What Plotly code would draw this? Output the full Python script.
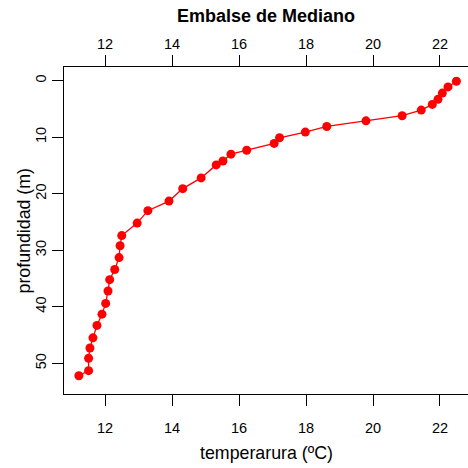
import plotly.graph_objects as go

temperatura = [22.49, 22.24, 22.07, 21.94, 21.77, 21.44, 20.87, 19.79, 18.62, 17.98,
               17.21, 17.05, 16.23, 15.76, 15.52, 15.32, 14.87, 14.32, 13.91, 13.28,
               12.96, 12.50, 12.45, 12.42, 12.29, 12.14, 12.09, 12.02, 11.91, 11.76,
               11.64, 11.55, 11.51, 11.51, 11.22]
profundidad = [0.1, 1.1, 2.2, 3.3, 4.2, 5.2, 6.2, 7.1, 8.1, 9.1,
               10.1, 11.1, 12.3, 13.0, 14.2, 14.9, 17.2, 19.1, 21.3, 23.0,
               25.2, 27.4, 29.2, 31.3, 33.4, 35.2, 37.2, 39.4, 41.3, 43.3,
               45.5, 47.3, 49.1, 51.3, 52.2]
x_ticks = [12, 14, 16, 18, 20, 22]
y_ticks = [0, 10, 20, 30, 40, 50]

FONT = "Liberation Sans, Arial, sans-serif"
xr = [10.776, 22.836]
yr = [55.43, -2.42]

fig = go.Figure()
fig.add_trace(go.Scatter(
    x=temperatura, y=profundidad, mode="lines+markers",
    line=dict(color="#FF0000", width=1.3),
    marker=dict(color="#FF0000", size=9, symbol="circle"),
    showlegend=False, hoverinfo="skip"))
# invisible trace for top axis
fig.add_trace(go.Scatter(x=[temperatura[0]], y=[profundidad[0]], xaxis="x2",
                         mode="markers", marker=dict(opacity=0), showlegend=False,
                         hoverinfo="skip"))

axis_common = dict(showgrid=False, zeroline=False, showline=True, linecolor="black",
                   linewidth=1, ticks="outside", ticklen=11, tickwidth=1,
                   tickcolor="black", tickfont=dict(family=FONT, size=14.5, color="black"))

fig.update_layout(
    width=468, height=468,
    margin=dict(l=64, r=0, t=67, b=74),
    paper_bgcolor="white", plot_bgcolor="white",
    xaxis=dict(range=xr, tickvals=x_ticks, ticktext=[str(v) for v in x_ticks],
               side="bottom", mirror=False, ticklabelstandoff=10, **axis_common),
    xaxis2=dict(range=xr, tickvals=x_ticks, ticktext=[str(v) for v in x_ticks],
                overlaying="x", side="top", anchor="y", **axis_common),
    yaxis=dict(range=yr, tickvals=y_ticks, ticktext=[str(v) for v in y_ticks],
               tickangle=-90, side="left", **axis_common),
    annotations=[
        dict(text="<b>Embalse de Mediano</b>", xref="paper", yref="paper",
             x=0.5, y=1 + (67 - 16) / 327, xanchor="center", yanchor="middle",
             showarrow=False, font=dict(family=FONT, size=18, color="black")),
        dict(text="temperarura (ºC)", xref="paper", yref="paper",
             x=0.5, y=-(453 - 394) / 327, xanchor="center", yanchor="middle",
             showarrow=False, font=dict(family=FONT, size=17.8, color="black")),
        dict(text="profundidad (m)", xref="paper", yref="paper",
             x=-(64 - 23) / 404, y=0.5, xanchor="center", yanchor="middle",
             textangle=-90, showarrow=False,
             font=dict(family=FONT, size=17.8, color="black")),
    ],
)

fig.write_html("out.html")
